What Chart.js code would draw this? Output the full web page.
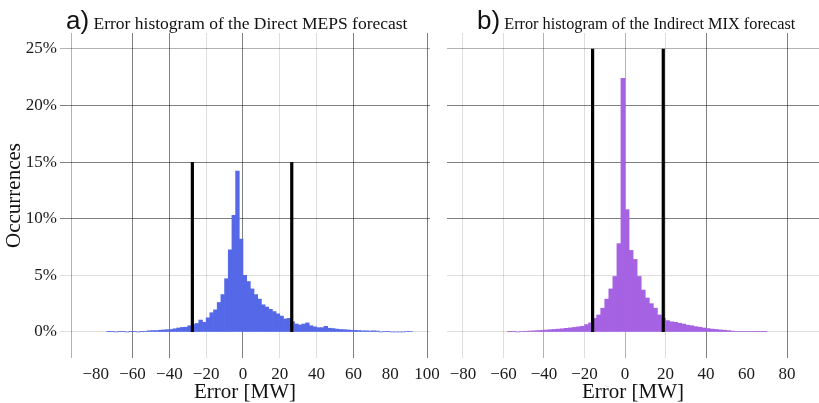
<!DOCTYPE html>
<html lang="en">
<head>
<meta charset="UTF-8">
<title>Error histograms</title>
<script src="https://cdn.jsdelivr.net/npm/chart.js@4.4.0/dist/chart.umd.min.js"></script>
<style>
html,body{margin:0;padding:0;background:#fff}
#wrap{position:relative;width:819px;height:403px;overflow:hidden}
canvas{position:absolute;top:0}
#cA{left:0}
#cB{left:435px}
.ttl{position:absolute;top:3px;height:34px;line-height:34px;font-family:"Liberation Serif",serif;font-size:17.5px;color:#111;white-space:nowrap;z-index:2}
.ttl .lab{font-family:"Liberation Sans",sans-serif;font-size:26px}
#tB{font-size:16.3px}
</style>
</head>
<body>
<div id="wrap">
  <div class="ttl" style="left:66px"><span class="lab">a)</span> Error histogram of the Direct MEPS forecast</div>
  <div class="ttl" id="tB" style="left:477px"><span class="lab">b)</span> Error histogram of the Indirect MIX forecast</div>
  <canvas id="cA" width="446" height="403"></canvas>
  <canvas id="cB" width="384" height="403"></canvas>
</div>

<script>
/* bin centres (MW, 2 MW bins) and share of occurrences (%) */
const binsA = [-73,-71,-69,-67,-65,-63,-61,-59,-57,-55,-53,-51,-49,-47,-45,-43,-41,-39,-37,-35,-33,-31,-29,-27,-25,-23,-21,-19,-17,-15,-13,-11,-9,-7,-5,-3,-1,1,3,5,7,9,11,13,15,17,19,21,23,25,27,29,31,33,35,37,39,41,43,45,47,49,51,53,55,57,59,61,63,65,67,69,71,73,75,77,79,81,83,85,87,89,91];
const pctA  = [0.03,0.03,0,0.03,0.03,0,0.03,0.03,0,0.03,0.06,0.1,0.12,0.12,0.15,0.18,0.2,0.22,0.28,0.35,0.4,0.42,0.55,0.65,0.75,1.05,0.85,1.25,1.7,1.95,2.6,3.3,4.7,7.25,10.3,14.2,8.2,5.0,4.45,3.8,3.3,2.9,2.4,2.2,2.0,1.8,1.6,1.4,1.15,1.2,0.9,0.7,0.62,0.7,0.8,0.55,0.45,0.38,0.38,0.5,0.33,0.3,0.25,0.22,0.2,0.18,0.15,0.14,0.12,0.1,0.1,0.08,0.1,0.08,0,0.05,0.05,0,0,0,0,0.04,0.04];

const binsB = [-57,-55,-53,-51,-49,-47,-45,-43,-41,-39,-37,-35,-33,-31,-29,-27,-25,-23,-21,-19,-17,-15,-13,-11,-9,-7,-5,-3,-1,1,3,5,7,9,11,13,15,17,19,21,23,25,27,29,31,33,35,37,39,41,43,45,47,49,51,53,55,57,59,61,63,65,67,69];
const pctB  = [0.03,0.03,0,0.04,0.06,0.08,0.1,0.12,0.14,0.16,0.2,0.22,0.25,0.28,0.32,0.36,0.4,0.45,0.5,0.65,0.8,1.2,1.5,2.1,2.9,3.8,4.9,7.8,22.4,10.8,7.2,6.4,4.9,3.7,3.0,2.5,2.1,1.5,1.2,1.0,0.9,0.85,0.77,0.7,0.6,0.55,0.47,0.42,0.35,0.3,0.25,0.22,0.18,0.15,0.12,0.08,0.05,0.04,0.04,0.04,0.04,0.03,0.03,0.03];

/* interval bounds drawn as black verticals */
const boundsA = [-27.5, 26.5];
const boundTopA = 15;
const boundsB = [-16, 18.9];
const boundTopB = 25;

/* axis ticks */
const xLabelsA = [-80,-60,-40,-20,0,20,40,60,80,100];
const xLabelsB = [-80,-60,-40,-20,0,20,40,60,80];
const yTicks = [0,5,10,15,20,25];
const xGridA = [-93,-80,-60,-40,-20,0,20,40,60,80,100];
const xGridB = [-80,-60,-40,-20,0,20,40,60,80];

/* grid tones */
const TONE = {dark:'rgba(0,0,0,0.5)', mid:'rgba(0,0,0,0.3)', light:'rgba(0,0,0,0.13)', none:'rgba(0,0,0,0)'};
const toneXA = {'-93':'mid','-80':'none','-60':'dark','-40':'dark','-20':'light','0':'dark','20':'light','40':'light','60':'dark','80':'none','100':'dark'};
const toneXB = {'-80':'light','-60':'light','-40':'mid','-20':'light','0':'mid','20':'light','40':'dark','60':'none','80':'dark'};
const toneY  = {'0':'light','5':'light','10':'dark','15':'dark','20':'dark','25':'mid'};

const serif = '"Liberation Serif", "Times New Roman", serif';
const fmt = v => v < 0 ? '\u2212' + Math.abs(v) : String(v);
const toneOf = (map) => (c) => (c && c.tick) ? (TONE[map[String(c.tick.value)]] || TONE.none) : TONE.none;

function makeChart(id, bins, pct, color, bounds, boundTop, xmin, xmax, xGrid, xLabels, toneX, showY){
  const barData = bins.map((b,i)=>({x:b, y:pct[i]}));
  const sets = [{
    type:'bar', data:barData, backgroundColor:color, borderWidth:0,
    barPercentage:1, categoryPercentage:1, grouped:false, order:2
  }];
  bounds.forEach(b=>{
    sets.push({
      type:'line', data:[{x:b,y:0},{x:b,y:boundTop}],
      borderColor:'#000', borderWidth:3.2, pointRadius:0, order:1, borderCapStyle:'butt'
    });
  });
  return new Chart(document.getElementById(id),{
    type:'bar',
    data:{datasets:sets},
    options:{
      responsive:false, animation:false,
      layout:{padding:{top:33, left:0, right:showY?16:0, bottom:0}},
      plugins:{legend:{display:false}, tooltip:{enabled:false}},
      scales:{
        x:{
          type:'linear', min:xmin, max:xmax, offset:false,
          afterBuildTicks: ax => { ax.ticks = xGrid.map(v=>({value:v})); },
          afterFit: ax => { ax.height = 45; ax.paddingLeft = 0; ax.paddingRight = 0; },
          border:{display:false},
          grid:{offset:false, drawTicks:false, lineWidth:1, color: toneOf(toneX)},
          ticks:{autoSkip:false, maxRotation:0, padding:6, color:'#1a1a1a',
                 font:{family:serif, size:17},
                 callback: v => xLabels.includes(v) ? fmt(v) : ''},
          title:{display:true, text:'Error [MW]', color:'#111', padding:{top:0,bottom:0},
                 font:{family:serif, size:21, lineHeight:1}}
        },
        y:{
          min:-2.3, max:26.4,
          afterBuildTicks: ax => { ax.ticks = yTicks.map(v=>({value:v})); },
          afterFit: ax => { ax.width = showY ? 60 : 12; ax.paddingTop = 0; ax.paddingBottom = 0; },
          border:{display:false},
          grid:{drawTicks:false, lineWidth:1, color: toneOf(toneY)},
          ticks:{display:showY, padding:3, color:'#1a1a1a', font:{family:serif, size:17},
                 callback: v => v + '%'},
          title:{display:showY, text:'Occurrences', color:'#111', padding:{top:2,bottom:0},
                 font:{family:serif, size:21, lineHeight:1.2}}
        }
      }
    }
  });
}

makeChart('cA', binsA, pctA, '#5468E8', boundsA, boundTopA, -99.4, 101.6, xGridA, xLabelsA, toneXA, true);
makeChart('cB', binsB, pctB, '#A562E2', boundsB, boundTopB, -87.9, 95.8, xGridB, xLabelsB, toneXB, false);
</script>
</body>
</html>
